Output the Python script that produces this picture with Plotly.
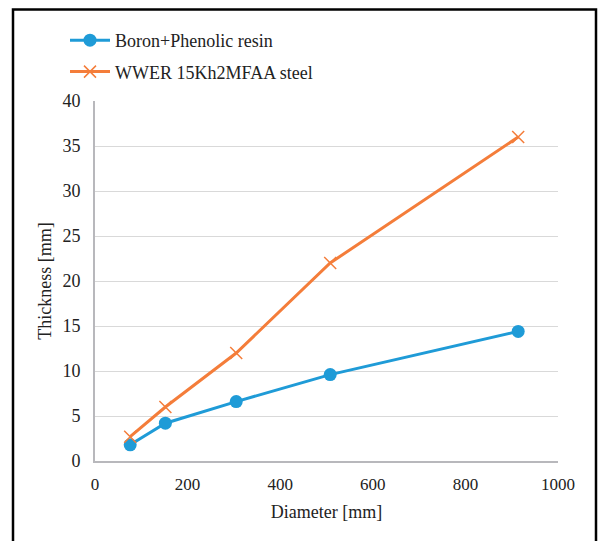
import plotly.graph_objects as go

diameter = [76, 152, 305, 508, 914]
boron = [1.8, 4.2, 6.6, 9.6, 14.4]
steel = [2.7, 6.0, 12.0, 22.0, 36.0]
names = ["Boron+Phenolic resin", "WWER 15Kh2MFAA steel"]

BLUE = "#1f9bd7"
ORANGE = "#f47d3a"
FONT = "Liberation Serif"

fig = go.Figure()
fig.add_trace(go.Scatter(
    x=diameter, y=boron, name=names[0], mode="lines+markers", legendgroup="a",
    line=dict(color=BLUE, width=3),
    marker=dict(symbol="circle", size=13, color=BLUE)))
fig.add_trace(go.Scatter(
    x=diameter, y=steel, name=names[1], mode="lines+markers", legendgroup="b",
    line=dict(color=ORANGE, width=3),
    marker=dict(symbol="x-thin", size=12, color=ORANGE, line=dict(color=ORANGE, width=1.5))))

L, R, T, B = 95, 42, 101, 80
W, H = 600 - L - R, 541 - T - B

def px(x):
    return (x - L) / W

def py(y):
    return (541 - B - y) / H

fig.add_shape(type="rect", xref="paper", yref="paper",
              x0=px(13), x1=px(596), y0=py(560), y1=py(9.5),
              line=dict(color="black", width=2.5), fillcolor="rgba(0,0,0,0)", layer="above")

fig.update_layout(
    width=600, height=541,
    margin=dict(l=L, r=R, t=T, b=B),
    paper_bgcolor="white", plot_bgcolor="white",
    font=dict(family=FONT, size=16, color="#222222"),
    showlegend=True,
    legend=dict(x=px(65), y=py(22), xanchor="left", yanchor="top",
                font=dict(family=FONT, size=18, color="#222222"),
                traceorder="grouped", tracegroupgap=5,
                bgcolor="rgba(0,0,0,0)", itemwidth=40),
    xaxis=dict(range=[0, 1000], dtick=200, showgrid=False, zeroline=False,
               showline=True, linecolor="#b8b8bc", linewidth=2,
               ticks="outside", ticklen=7, tickcolor="rgba(0,0,0,0)",
               tickfont=dict(family=FONT, size=17),
               title=dict(text="Diameter [mm]", font=dict(family=FONT, size=18), standoff=12)),
    yaxis=dict(range=[0, 40], dtick=5, showgrid=True, gridcolor="#d9d9d9", gridwidth=1,
               zeroline=False, showline=True, linecolor="#b8b8bc", linewidth=2,
               ticks="outside", ticklen=9, tickcolor="rgba(0,0,0,0)",
               tickfont=dict(family=FONT, size=18),
               title=dict(text="Thickness [mm]", font=dict(family=FONT, size=18), standoff=6)),
)

fig.write_html("out.html")
